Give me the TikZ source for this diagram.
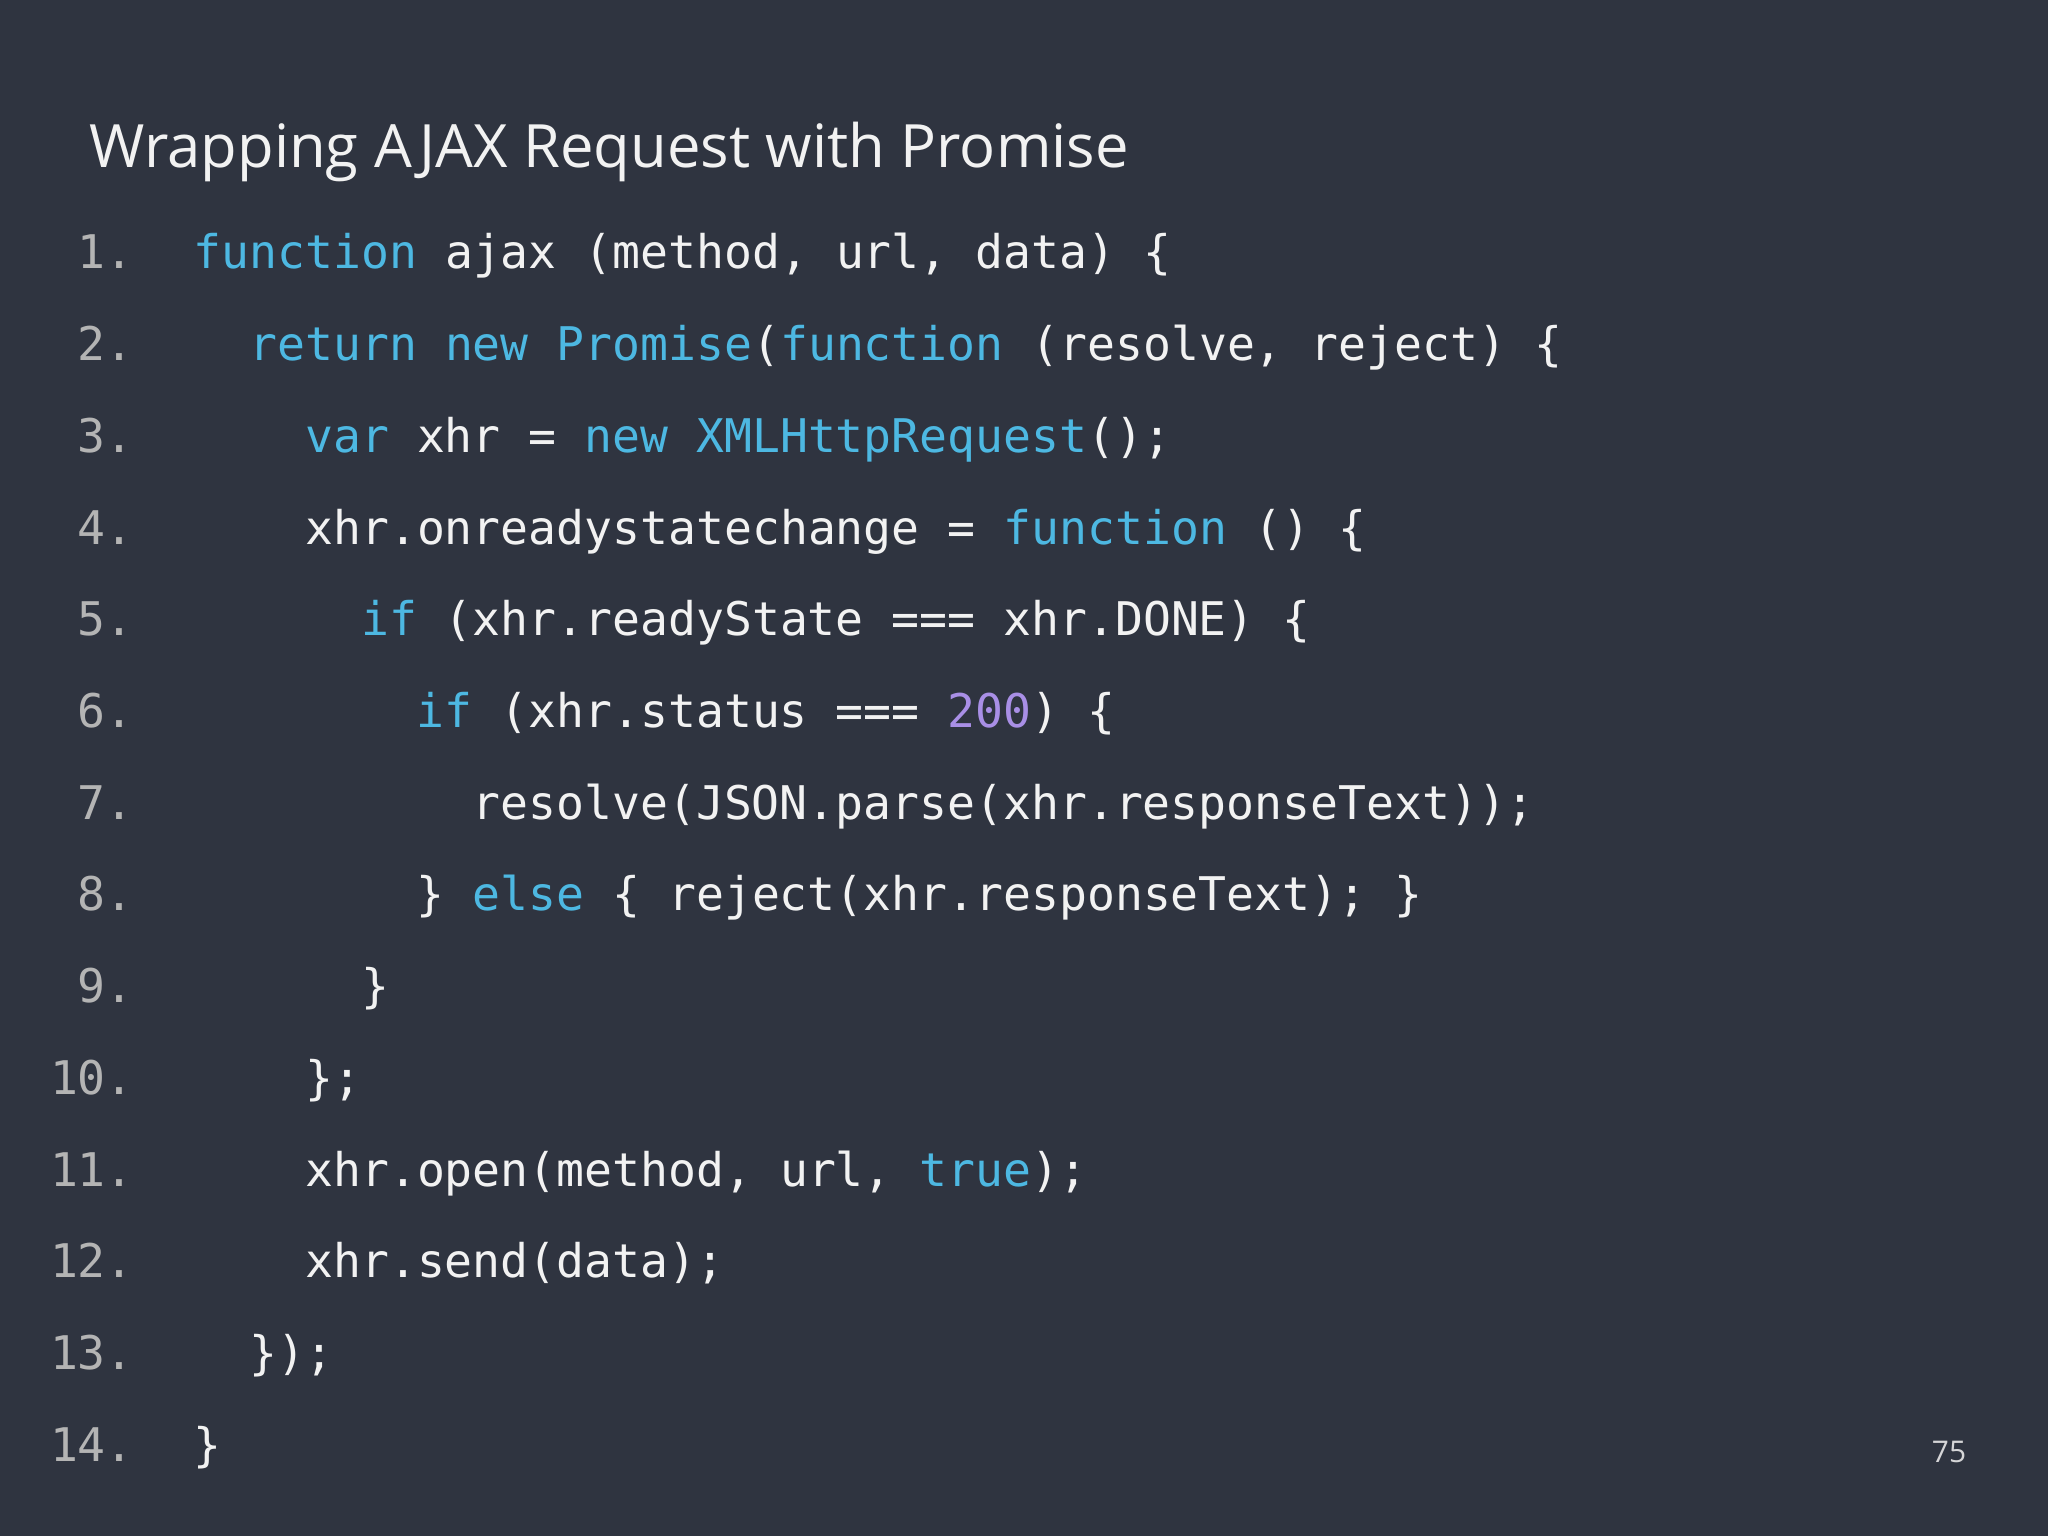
\documentclass[tikz,border=0pt]{standalone}
\usepackage{fontspec}
\setmainfont{Open Sans}
\setmonofont{DejaVu Sans Mono}
\definecolor{bg}{HTML}{2F3440}
\definecolor{fg}{HTML}{F2F2F2}
\definecolor{kw}{HTML}{4DB8E2}
\definecolor{num}{HTML}{A98FE6}
\definecolor{ln}{HTML}{B4B4B4}
\newcommand{\kw}[1]{\textcolor{kw}{#1}}
\newcommand{\nm}[1]{\textcolor{num}{#1}}
\tikzset{code/.style={anchor=base west,inner sep=0pt,text=fg,font=\fontsize{13.2}{14}\ttfamily},
lnum/.style={anchor=base east,inner sep=0pt,text=ln,font=\fontsize{13.2}{14}\ttfamily}}
\begin{document}
\begin{tikzpicture}
\fill[bg] (0,0) rectangle (20.48,-15.36);
\useasboundingbox (0,0) rectangle (20.48,-15.36);
\node[anchor=base west,inner sep=0pt,text=fg,font=\fontsize{17}{20}\selectfont] (title) at (0.89,-1.68) {Wrapping AJAX Request with Promise};
\def\x{1.93}\def\u{0.558}\def\y{-2.69}\def\d{0.917}
\foreach \i/\ind/\t in {
1/0/{\kw{function} ajax (method, url, data) \{},
2/1/{\kw{return} \kw{new} \kw{Promise}(\kw{function} (resolve, reject) \{},
3/2/{\kw{var} xhr = \kw{new} \kw{XMLHttpRequest}();},
4/2/{xhr.onreadystatechange = \kw{function} () \{},
5/3/{\kw{if} (xhr.readyState === xhr.DONE) \{},
6/4/{\kw{if} (xhr.status === \nm{200}) \{},
7/5/{resolve(JSON.parse(xhr.responseText));},
8/4/{\} \kw{else} \{ reject(xhr.responseText); \}},
9/3/{\}},
10/2/{\};},
11/2/{xhr.open(method, url, \kw{true});},
12/2/{xhr.send(data);},
13/1/{\});},
14/0/{\}}}{
\node[code] (c\i) at ({\x+\ind*\u},{\y-(\i-1)*\d}) {\t};
\node[lnum] (n\i) at (1.345,{\y-(\i-1)*\d}) {\i.};
}
\node[anchor=base,inner sep=0pt,text=fg!85!bg,font=\fontsize{8.5}{10}\selectfont] (pg) at (19.49,-14.62) {75};
\end{tikzpicture}
\end{document}
